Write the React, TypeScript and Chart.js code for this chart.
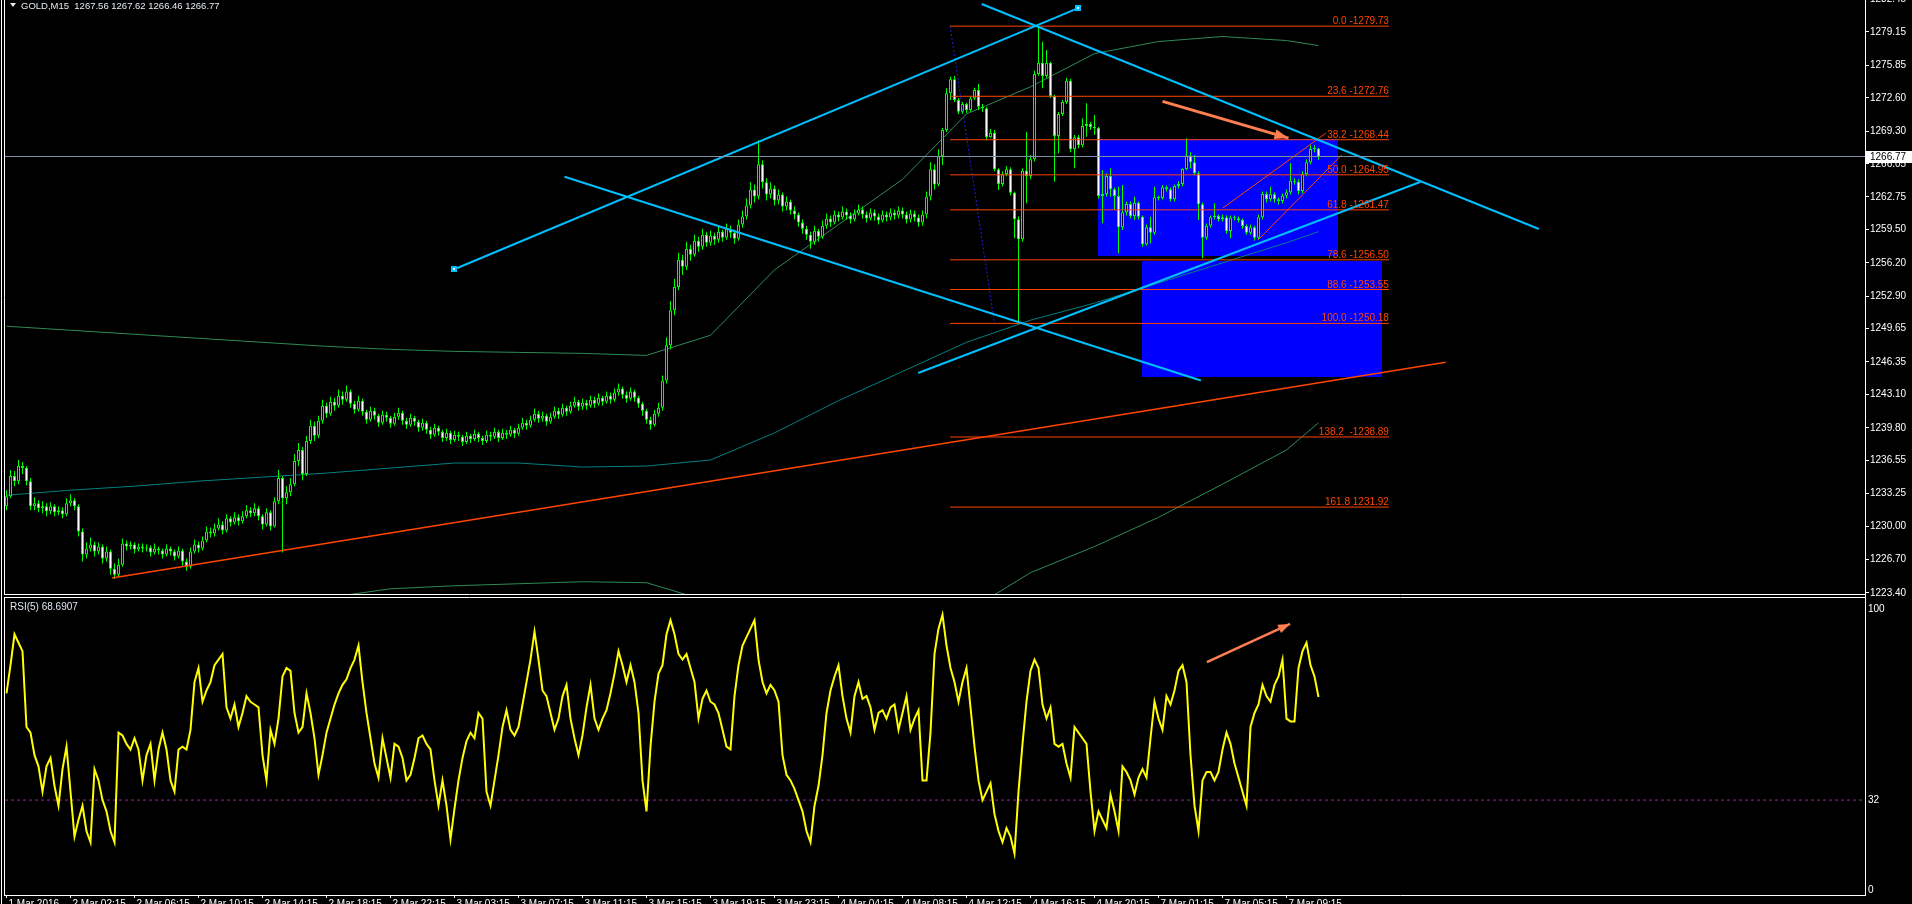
import React, { useEffect, useRef } from 'react';
import { Chart, registerables } from 'chart.js';

Chart.register(...registerables);

const FONT_FAMILY = '"Liberation Sans", Arial, "DejaVu Sans", sans-serif';
const FONT_SIZE = 10;
const LIME = '#00ff00';
const CYAN = '#00bfff';
const ORANGE_RED = '#ff4500';
const CORAL = '#ff7f50';

// ---------------- candles (GOLD M15) ----------------
const firstOpen = 1232.0;
const closes: number[] = [
  1233.0,1235.0,1234.5,1236.0,1235.8,1234.5,1232.0,1232.3,1231.8,1232.0,
  1231.5,1232.0,1231.4,1231.6,1231.2,1232.3,1232.6,1232.0,1229.5,1227.2,
  1227.8,1228.2,1227.5,1228.0,1226.8,1227.5,1225.8,1225.2,1226.2,1228.3,
  1228.0,1228.2,1227.7,1228.0,1227.8,1227.9,1227.4,1227.8,1227.6,1227.2,
  1227.8,1227.5,1227.0,1227.6,1226.5,1226.0,1227.5,1228.2,1227.8,1228.6,
  1229.5,1229.3,1229.8,1230.2,1229.6,1230.8,1230.4,1230.9,1230.5,1231.0,
  1231.6,1231.3,1231.8,1231.0,1230.2,1231.4,1230.0,1232.5,1234.8,1232.8,
  1233.4,1234.2,1236.5,1237.6,1235.2,1238.5,1240.0,1239.0,1240.5,1242.0,
  1241.2,1242.4,1242.0,1243.0,1242.6,1243.4,1242.2,1241.6,1242.5,1241.4,
  1240.6,1241.5,1241.0,1240.3,1241.1,1240.8,1240.2,1240.9,1241.3,1240.5,
  1240.1,1240.8,1240.4,1239.8,1240.3,1239.6,1239.1,1239.8,1239.4,1238.8,
  1239.3,1238.6,1239.1,1238.9,1238.4,1239.0,1238.7,1239.2,1238.8,1238.5,
  1239.1,1238.9,1239.4,1238.8,1239.3,1239.1,1239.6,1239.2,1239.8,1240.3,
  1240.0,1240.6,1241.2,1240.7,1241.0,1240.4,1240.9,1241.5,1241.1,1241.8,
  1241.4,1242.0,1242.4,1241.9,1242.3,1242.0,1242.6,1242.2,1242.8,1242.4,
  1243.0,1242.6,1243.3,1243.7,1243.1,1242.7,1243.4,1242.8,1242.2,1241.5,
  1240.6,1240.1,1241.2,1241.8,1244.5,1248.0,1251.5,1253.8,1256.5,1255.8,
  1257.6,1257.0,1258.4,1257.8,1259.0,1258.2,1258.9,1258.5,1259.3,1258.7,
  1259.6,1259.2,1258.6,1260.0,1260.8,1261.9,1263.5,1262.8,1266.0,1264.2,
  1263.0,1263.6,1262.4,1263.0,1261.8,1262.3,1261.4,1261.0,1260.2,1259.6,
  1259.0,1258.3,1259.4,1258.8,1259.9,1260.6,1260.2,1261.0,1260.7,1261.3,
  1260.9,1260.5,1261.1,1261.5,1261.0,1260.6,1261.2,1260.8,1260.4,1261.0,
  1260.7,1261.2,1260.9,1261.4,1261.0,1260.5,1261.1,1260.7,1260.2,1261.0,
  1262.8,1265.5,1264.0,1266.8,1269.4,1273.05,1274.44,1272.39,1271.23,1271.99,
  1271.39,1272.55,1273.38,1271.73,1271.56,1268.68,1269.14,1265.5,1264.04,1265.03,
  1265.5,1263.18,1260.53,1258.54,1265.37,1264.83,1266.49,1274.97,1276.1,1274.77,
  1276.1,1272.79,1268.81,1271.0,1272.19,1274.31,1267.49,1268.68,1267.88,1269.81,
  1270.0,1269.67,1269.61,1262.85,1263.05,1264.83,1263.51,1262.85,1259.73,1261.22,
  1262.05,1260.86,1262.18,1260.79,1258.04,1259.73,1259.2,1262.71,1262.65,1263.71,
  1263.51,1262.51,1263.84,1264.04,1265.53,1266.86,1266.2,1265.1,1262.02,1258.7,
  1259.9,1260.73,1260.86,1260.53,1260.73,1259.37,1260.69,1260.63,1260.46,1259.86,
  1259.2,1259.73,1258.7,1260.73,1263.05,1262.51,1263.01,1262.51,1262.35,1262.88,
  1263.21,1264.37,1264.27,1263.34,1265.03,1266.19,1267.52,1267.56,1266.77
];
const highs: number[] = [
  1233.6,1235.6,1235.5,1236.6,1236.4,1236.0,1234.8,1232.9,1232.6,1232.5,
  1232.3,1232.4,1232.2,1232.0,1231.9,1232.8,1233.2,1232.8,1232.2,1229.8,
  1228.4,1228.9,1228.5,1228.4,1228.2,1228.0,1227.7,1226.3,1226.8,1228.8,
  1228.6,1228.5,1228.4,1228.3,1228.3,1228.2,1228.1,1228.3,1228.0,1227.8,
  1228.2,1228.0,1227.7,1228.0,1227.8,1226.8,1227.9,1228.7,1228.5,1229.0,
  1230.0,1229.9,1230.3,1230.8,1230.5,1231.2,1231.0,1231.4,1231.2,1231.5,
  1232.1,1231.9,1232.3,1232.0,1231.2,1231.8,1231.6,1232.9,1235.6,1235.0,
  1234.0,1234.8,1237.2,1238.3,1237.9,1239.0,1240.6,1240.4,1241.0,1242.6,
  1242.3,1242.9,1242.8,1243.6,1243.4,1244.0,1243.6,1242.5,1243.0,1242.7,
  1241.6,1241.9,1241.8,1241.2,1241.5,1241.4,1241.0,1241.3,1241.8,1241.5,
  1240.8,1241.2,1241.0,1240.6,1240.7,1240.5,1239.9,1240.2,1240.0,1239.6,
  1239.7,1239.5,1239.5,1239.4,1239.1,1239.4,1239.2,1239.6,1239.4,1239.0,
  1239.5,1239.4,1239.8,1239.6,1239.7,1239.6,1240.0,1239.8,1240.2,1240.8,
  1240.6,1241.0,1241.7,1241.5,1241.4,1241.2,1241.3,1241.9,1241.8,1242.2,
  1242.0,1242.4,1242.9,1242.6,1242.7,1242.6,1243.0,1242.9,1243.2,1243.0,
  1243.4,1243.3,1243.7,1244.2,1243.9,1243.4,1243.8,1243.6,1243.0,1242.4,
  1241.7,1240.9,1241.6,1242.3,1245.0,1248.8,1252.4,1254.6,1257.2,1257.0,
  1258.3,1258.0,1259.0,1258.8,1259.6,1259.3,1259.4,1259.2,1259.8,1259.5,
  1260.1,1259.9,1259.5,1260.5,1261.4,1262.6,1264.2,1264.0,1268.4,1266.4,
  1264.6,1264.2,1263.9,1263.5,1263.2,1262.8,1262.5,1261.8,1261.2,1260.5,
  1259.9,1259.3,1259.9,1259.6,1260.4,1261.1,1260.9,1261.4,1261.3,1261.8,
  1261.6,1261.2,1261.5,1262.0,1261.8,1261.3,1261.6,1261.5,1261.1,1261.4,
  1261.3,1261.6,1261.5,1261.8,1261.7,1261.3,1261.5,1261.4,1261.0,1261.4,
  1263.3,1266.2,1266.0,1267.5,1269.6,1273.55,1274.71,1274.77,1272.6,1272.2,
  1272.1,1272.72,1273.6,1273.98,1272.0,1271.7,1269.5,1269.4,1265.6,1265.3,
  1265.8,1265.7,1263.3,1260.8,1265.6,1269.24,1266.9,1275.3,1279.73,1278.19,
  1277.36,1276.2,1272.9,1271.2,1272.4,1274.6,1274.5,1268.9,1268.9,1270.57,
  1272.06,1270.2,1270.9,1269.7,1265.43,1265.1,1265.6,1263.7,1263.77,1263.94,
  1262.3,1262.3,1262.78,1262.3,1260.9,1260.0,1260.79,1263.77,1262.9,1263.94,
  1263.9,1263.7,1264.0,1264.3,1265.6,1268.58,1267.2,1266.9,1265.3,1262.2,
  1260.1,1260.9,1262.12,1261.0,1261.0,1260.9,1260.9,1260.9,1260.8,1260.6,
  1260.0,1260.0,1259.9,1261.0,1263.3,1263.3,1263.77,1263.2,1262.7,1263.1,
  1263.5,1266.09,1264.6,1264.5,1265.3,1266.5,1267.9,1267.9,1267.62
];
const lows: number[] = [
  1231.6,1232.8,1234.0,1234.2,1235.2,1234.1,1231.6,1231.6,1231.4,1231.3,
  1231.0,1231.2,1231.0,1231.1,1230.8,1231.0,1232.0,1231.6,1229.0,1226.5,
  1226.8,1227.5,1227.0,1227.2,1226.3,1226.5,1225.2,1224.8,1225.0,1226.0,
  1227.6,1227.7,1227.3,1227.5,1227.4,1227.5,1227.0,1227.2,1227.2,1226.8,
  1227.0,1227.1,1226.6,1226.8,1226.1,1225.6,1225.8,1227.3,1227.4,1227.6,
  1228.4,1228.9,1229.0,1229.6,1229.2,1229.4,1230.0,1230.2,1230.1,1230.3,
  1230.8,1230.9,1231.0,1230.6,1229.7,1230.0,1229.6,1229.9,1232.2,1227.4,
  1232.2,1233.0,1234.0,1236.0,1234.6,1235.0,1238.2,1238.5,1238.8,1240.2,
  1240.8,1241.0,1241.5,1241.8,1242.1,1242.4,1241.8,1241.2,1241.4,1241.0,
  1240.2,1240.4,1240.6,1239.9,1240.1,1240.4,1239.8,1240.0,1240.6,1240.1,
  1239.7,1239.9,1240.0,1239.4,1239.5,1239.2,1238.7,1238.9,1239.0,1238.4,
  1238.5,1238.2,1238.4,1238.5,1238.0,1238.2,1238.3,1238.5,1238.4,1238.1,
  1238.3,1238.5,1238.7,1238.4,1238.6,1238.7,1238.9,1238.8,1239.0,1239.6,
  1239.6,1239.8,1240.4,1240.3,1240.4,1240.0,1240.2,1240.7,1240.7,1240.9,
  1241.0,1241.2,1241.8,1241.5,1241.6,1241.6,1241.8,1241.8,1242.0,1242.0,
  1242.2,1242.2,1242.4,1243.0,1242.7,1242.3,1242.5,1242.4,1241.8,1241.0,
  1240.2,1239.6,1239.9,1240.9,1241.5,1244.2,1247.6,1251.0,1253.5,1255.0,
  1255.5,1256.4,1256.8,1257.3,1257.5,1257.8,1257.9,1258.0,1258.2,1258.3,
  1258.5,1258.7,1258.1,1258.4,1259.7,1260.5,1261.6,1262.2,1262.5,1263.6,
  1262.4,1262.6,1261.9,1262.0,1261.3,1261.4,1261.0,1260.5,1259.8,1259.1,
  1258.5,1257.6,1258.0,1258.3,1258.6,1259.6,1259.8,1260.0,1260.3,1260.5,
  1260.5,1260.1,1260.3,1260.9,1260.6,1260.2,1260.4,1260.4,1260.0,1260.2,
  1260.3,1260.4,1260.5,1260.6,1260.6,1260.1,1260.2,1260.3,1259.8,1259.9,
  1260.6,1262.4,1263.5,1263.8,1265.93,1269.2,1272.39,1272.2,1271.0,1271.0,
  1271.1,1271.23,1272.4,1271.39,1271.2,1268.4,1268.6,1265.3,1263.44,1263.8,
  1264.8,1262.9,1258.64,1250.18,1258.3,1262.12,1264.5,1266.3,1274.8,1273.55,
  1274.6,1272.6,1264.27,1267.09,1270.8,1272.0,1267.2,1265.6,1267.6,1267.7,
  1268.74,1269.4,1268.91,1262.6,1260.13,1262.8,1262.78,1261.46,1257.15,1259.47,
  1260.9,1260.6,1260.46,1260.5,1257.8,1257.9,1258.14,1259.0,1262.4,1262.5,
  1263.3,1262.3,1262.3,1263.6,1263.8,1265.4,1265.6,1264.9,1260.46,1256.65,
  1258.5,1259.7,1260.5,1260.3,1260.3,1259.1,1258.64,1260.4,1260.2,1259.6,
  1259.0,1259.0,1258.4,1258.5,1260.5,1262.2,1262.3,1262.2,1262.0,1262.1,
  1262.6,1263.0,1264.0,1263.0,1263.11,1264.8,1266.0,1267.2,1266.46
];

// ---------------- RSI(5) ----------------
const rsiValues: number[] = [
  70,80,91,88,85,58,56,48,44,35,
  44,47,37,30,43,51,35,19,25,30,
  21,17,43,39,32,28,21,17,56,55,
  52,50,54,50,39,48,52,39,50,56,
  50,39,35,50,51,50,57,74,79,67,
  71,74,80,82,84,65,61,66,58,63,
  69,67,66,65,48,39,57,52,61,76,
  79,78,63,56,58,70,63,54,41,48,
  56,61,66,70,73,75,79,82,87,74,
  63,54,45,40,54,47,40,52,51,47,
  39,41,47,54,55,52,50,39,30,39,
  30,18,29,39,47,53,56,54,63,61,
  35,30,39,48,58,64,57,55,58,66,
  74,82,92,82,71,69,63,57,61,69,
  73,61,54,48,55,65,73,61,57,61,
  64,70,77,85,80,74,80,74,63,39,
  28,51,67,77,80,91,96,91,84,82,
  84,79,74,61,68,71,67,66,63,57,
  51,50,69,80,87,90,93,96,82,74,
  70,73,71,67,48,41,39,36,32,28,
  21,17,30,37,48,63,71,76,80,69,
  61,56,69,74,68,69,65,57,63,64,
  61,65,66,57,63,69,57,61,64,39,
  39,56,84,93,98,87,79,74,67,74,
  79,65,51,39,32,35,38,27,21,17,
  22,19,13,35,52,67,78,82,79,66,
  61,65,52,51,52,45,40,58,56,54,
  52,35,21,28,25,22,34,28,21,44,
  42,39,34,40,43,40,54,67,61,57,
  69,66,71,78,80,74,48,30,21,39,
  42,42,39,42,50,56,52,45,40,35,
  30,58,63,66,73,69,67,73,76,82,
  61,60,60,79,85,88,80,76,68.69
];

// ---------------- axes ----------------
const priceTicks = [1282.45,1279.15,1275.85,1272.60,1269.30,1266.05,1262.75,1259.50,1256.20,1252.90,1249.65,1246.35,1243.10,1239.80,1236.55,1233.25,1230.00,1226.70,1223.40];
const rsiTicks = [0, 32, 100];
const dateTickBars = [0,16,32,48,64,80,96,112,128,144,160,176,192,208,224,240,256,272,288,304,320];
const dateTickLabels = ['1 Mar 2016','2 Mar 02:15','2 Mar 06:15','2 Mar 10:15','2 Mar 14:15','2 Mar 18:15','2 Mar 22:15','3 Mar 03:15','3 Mar 07:15','3 Mar 11:15','3 Mar 15:15','3 Mar 19:15','3 Mar 23:15','4 Mar 04:15','4 Mar 08:15','4 Mar 12:15','4 Mar 16:15','4 Mar 20:15','7 Mar 01:15','7 Mar 05:15','7 Mar 09:15'];

// ---------------- Bollinger bands (sampled) ----------------
const bbBars = [0,16,32,48,64,80,96,112,128,144,160,176,192,208,224,240,256,272,288,304,320,328];
const bbUpper = [1249.9,1249.5,1249.1,1248.7,1248.3,1247.9,1247.6,1247.4,1247.3,1247.2,1247.0,1249.0,1255.5,1260.0,1264.5,1271.0,1273.7,1277.0,1278.2,1278.7,1278.3,1277.8];
const bbMid = [1233.1,1233.6,1234.0,1234.5,1234.9,1235.3,1235.8,1236.3,1236.3,1235.9,1236.0,1236.6,1239.3,1242.5,1245.4,1248.3,1250.5,1252.2,1254.2,1256.2,1258.2,1259.3];
const bbLower = [1216.3,1217.7,1218.9,1220.3,1221.5,1222.9,1223.8,1224.1,1224.3,1224.5,1224.4,1222.5,1220.0,1218.5,1219.0,1221.5,1225.4,1228.0,1230.9,1234.2,1237.6,1240.3];

// ---------------- Fibonacci ----------------
const fibPrices = [1279.73,1272.76,1268.44,1264.95,1261.47,1256.50,1253.55,1250.18,1238.89,1231.92];
const fibLabels = ['0.0 -1279.73','23.6 -1272.76','38.2 -1268.44','50.0 -1264.95','61.8 -1261.47','78.6 -1256.50','88.6 -1253.55','100.0 -1250.18','138.2  -1238.89','161.8 1231.92'];
const fibStartBar = 235.9;
const fibEndBar = 345.6;
const fibDiagBars = [235.9, 247.0];
const fibDiagPrices = [1279.73, 1250.18];

// ---------------- drawn objects ----------------
const cyanLineBars = [[111.8, 267.9], [139.5, 298.6], [227.9, 353.4], [243.8, 383.1]];
const cyanLinePrices = [[1255.54, 1281.53], [1264.76, 1244.51], [1245.25, 1264.24], [1281.93, 1259.57]];
const supportBars = [26.4, 359.8];
const supportPrices = [1224.87, 1246.32];
const channelBars = [[304.1, 329.8], [312.9, 333.8]];
const channelPrices = [[1261.65, 1269.08], [1258.47, 1266.92]];
const arrowBars = [289.0, 320.5];
const arrowPrices = [1272.25, 1268.6];
const rsiArrowBars = [300.1, 320.9];
const rsiArrowValues = [81.1, 94.7];
const zoneBars = [[272.9, 332.9], [283.9, 343.9]];
const zonePrices = [[1268.47, 1256.88], [1256.39, 1244.85]];
const lastPrice = 1266.77;
const rsiLevel = 32;
const headerText = 'GOLD,M15  1267.56 1267.62 1266.46 1266.77';
const rsiTitle = 'RSI(5) 68.6907';

// ---------------- scale ranges ----------------
const X_MIN = -0.375;
const X_MAX = 464.625;
const PRICE_MIN = 1223.28;
const PRICE_MAX = 1282.33;
const RSI_MIN = -1.78;
const RSI_MAX = 103.56;

const font = (size = FONT_SIZE) => `${size}px ${FONT_FAMILY}`;

function pts(xs: number[], ys: number[]) {
  return xs.map((x, k) => ({ x, y: ys[k] }));
}

function lineDs(data: any[], color: string, width: number, order: number, dash: number[] = []) {
  return {
    type: 'line',
    data,
    borderColor: color,
    borderWidth: width,
    borderDash: dash,
    pointRadius: 0,
    pointHoverRadius: 0,
    fill: false,
    tension: 0,
    order,
    clip: 0,
  };
}

function arrowHead(ctx: any, x0: number, y0: number, x1: number, y1: number, len: number, half: number, color: string) {
  const a = Math.atan2(y1 - y0, x1 - x0);
  const c = Math.cos(a), s = Math.sin(a);
  ctx.save();
  ctx.fillStyle = color;
  ctx.beginPath();
  ctx.moveTo(x1, y1);
  ctx.lineTo(x1 - len * c + half * s, y1 - len * s - half * c);
  ctx.lineTo(x1 - len * c - half * s, y1 - len * s + half * c);
  ctx.closePath();
  ctx.fill();
  ctx.restore();
}

function hLine(ctx: any, x0: number, x1: number, y: number, color: string) {
  ctx.strokeStyle = color;
  ctx.lineWidth = 1;
  ctx.beginPath();
  ctx.moveTo(x0, y);
  ctx.lineTo(x1, y);
  ctx.stroke();
}
function vLine(ctx: any, x: number, y0: number, y1: number, color: string) {
  ctx.strokeStyle = color;
  ctx.lineWidth = 1;
  ctx.beginPath();
  ctx.moveTo(x, y0);
  ctx.lineTo(x, y1);
  ctx.stroke();
}

const mainDecor = {
  id: 'mainDecor',
  beforeDatasetsDraw(chart: any) {
    const { ctx, chartArea: a } = chart;
    const xs = chart.scales.x, ys = chart.scales.y;
    ctx.save();
    ctx.beginPath();
    ctx.rect(a.left, a.top, a.right - a.left, a.bottom - a.top);
    ctx.clip();
    ctx.fillStyle = '#0000ff';
    zoneBars.forEach((b, k) => {
      const x0 = Math.round(xs.getPixelForValue(b[0]));
      const x1 = Math.round(xs.getPixelForValue(b[1]));
      const y0 = Math.round(ys.getPixelForValue(zonePrices[k][0]));
      const y1 = Math.round(ys.getPixelForValue(zonePrices[k][1]));
      ctx.fillRect(x0, y0, x1 - x0, y1 - y0);
    });
    ctx.restore();
  },
  afterDatasetsDraw(chart: any) {
    const { ctx } = chart;
    const xs = chart.scales.x, ys = chart.scales.y;
    ctx.save();
    ctx.font = font(10);
    ctx.fillStyle = ORANGE_RED;
    ctx.textAlign = 'right';
    ctx.textBaseline = 'alphabetic';
    const fx = xs.getPixelForValue(fibEndBar);
    fibPrices.forEach((p, k) => {
      ctx.fillText(fibLabels[k], fx, Math.round(ys.getPixelForValue(p)) - 2);
    });
    arrowHead(ctx,
      xs.getPixelForValue(arrowBars[0]), ys.getPixelForValue(arrowPrices[0]),
      xs.getPixelForValue(arrowBars[1]), ys.getPixelForValue(arrowPrices[1]), 14, 5, CORAL);
    cyanLineBars[0].forEach((b, k) => {
      const px = Math.round(xs.getPixelForValue(b));
      const py = Math.round(ys.getPixelForValue(cyanLinePrices[0][k]));
      ctx.fillStyle = CYAN;
      ctx.fillRect(px - 3, py - 3, 6, 6);
      ctx.fillStyle = '#e8f8ff';
      ctx.fillRect(px - 1, py - 1, 2, 2);
    });
    ctx.restore();
  },
  afterDraw(chart: any) {
    const { ctx } = chart;
    const ys = chart.scales.y;
    ctx.save();
    vLine(ctx, 1.5, 0, 597, '#ffffff');
    vLine(ctx, 4.5, 0, 595, '#ffffff');
    vLine(ctx, 1865.5, 0, 597, '#ffffff');
    hLine(ctx, 4, 1866, 594.5, '#ffffff');
    const py = Math.round(ys.getPixelForValue(lastPrice));
    ctx.fillStyle = '#ffffff';
    ctx.fillRect(1866, py - 6, 46, 12);
    ctx.fillStyle = '#000000';
    ctx.font = font(10);
    ctx.textAlign = 'left';
    ctx.textBaseline = 'middle';
    ctx.fillText(lastPrice.toFixed(2), 1870, py + 0.5);
    ctx.fillStyle = '#e4ecf4';
    ctx.beginPath();
    ctx.moveTo(10, 3);
    ctx.lineTo(16, 3);
    ctx.lineTo(13, 7);
    ctx.closePath();
    ctx.fill();
    ctx.font = font(9.5);
    ctx.textBaseline = 'alphabetic';
    ctx.fillText(headerText, 21, 9);
    ctx.restore();
  },
};

const rsiDecor = {
  id: 'rsiDecor',
  afterDatasetsDraw(chart: any) {
    const { ctx } = chart;
    const xs = chart.scales.x, ys = chart.scales.y;
    arrowHead(ctx,
      xs.getPixelForValue(rsiArrowBars[0]), ys.getPixelForValue(rsiArrowValues[0]),
      xs.getPixelForValue(rsiArrowBars[1]), ys.getPixelForValue(rsiArrowValues[1]), 12, 4.5, CORAL);
  },
  afterDraw(chart: any) {
    const { ctx } = chart;
    ctx.save();
    vLine(ctx, 1.5, 0, 307, '#ffffff');
    vLine(ctx, 4.5, 0, 299, '#ffffff');
    vLine(ctx, 1865.5, 0, 299, '#ffffff');
    hLine(ctx, 4, 1866, 0.5, '#ffffff');
    ctx.fillStyle = '#dfe6f0';
    ctx.font = font(10);
    ctx.textAlign = 'left';
    ctx.textBaseline = 'alphabetic';
    ctx.fillText(rsiTitle, 10, 13);
    ctx.restore();
  },
};

export default function App() {
  const mainRef = useRef<HTMLCanvasElement>(null);
  const rsiRef = useRef<HTMLCanvasElement>(null);

  useEffect(() => {
    document.body.style.margin = '0';
    document.body.style.background = '#000';
    document.body.style.overflow = 'hidden';

    const opens = closes.map((c, i) => (i === 0 ? firstOpen : closes[i - 1]));
    const wickData = closes.map((c, i) => ({ x: i, y: [lows[i], highs[i]] }));
    const bodyData = closes.map((c, i) => ({ x: i, y: [opens[i], c] }));
    const bodyColors = closes.map((c, i) => (c < opens[i] ? '#ffffff' : '#000000'));

    const mainDatasets: any[] = [
      { type: 'bar', data: wickData, backgroundColor: LIME, borderWidth: 0, barThickness: 1, grouped: false, order: 21, inflateAmount: 0 },
      { type: 'bar', data: bodyData, backgroundColor: bodyColors, borderColor: LIME, borderWidth: 1, borderSkipped: false, barThickness: 3, grouped: false, order: 20, inflateAmount: 0, minBarLength: 1 },
      lineDs(pts(bbBars, bbUpper), '#2e8b57', 1, 30),
      lineDs(pts(bbBars, bbMid), '#008080', 1, 30),
      lineDs(pts(bbBars, bbLower), '#2e8b57', 1, 30),
      lineDs(pts(supportBars, supportPrices), ORANGE_RED, 1.5, 12),
      lineDs(pts(fibDiagBars, fibDiagPrices), '#2020e0', 1, 11, [2, 2]),
      ...fibPrices.map((p) => lineDs(pts([fibStartBar, fibEndBar], [p, p]), ORANGE_RED, 1, 10)),
      ...channelBars.map((b, k) => lineDs(pts(b, channelPrices[k]), ORANGE_RED, 1, 9)),
      ...cyanLineBars.map((b, k) => lineDs(pts(b, cyanLinePrices[k]), CYAN, 2, 8)),
      lineDs(pts([X_MIN, X_MAX], [lastPrice, lastPrice]), '#8090a0', 1, 5),
      lineDs(pts(arrowBars, arrowPrices), CORAL, 3, 3),
    ];

    const main = new Chart(mainRef.current as any, {
      type: 'bar',
      data: { datasets: mainDatasets },
      options: {
        responsive: false,
        maintainAspectRatio: false,
        animation: false,
        devicePixelRatio: 1,
        events: [],
        layout: { padding: { left: 5, right: 0, top: 0, bottom: 3 }, autoPadding: false },
        plugins: { legend: { display: false }, tooltip: { enabled: false }, title: { display: false } },
        scales: {
          x: { type: 'linear', min: X_MIN, max: X_MAX, offset: false, display: false },
          y: {
            type: 'linear',
            position: 'right',
            min: PRICE_MIN,
            max: PRICE_MAX,
            afterBuildTicks: (s: any) => { s.ticks = priceTicks.map((v) => ({ value: v })); },
            afterFit: (s: any) => { s.width = 47; s.paddingTop = 0; s.paddingBottom = 0; },
            ticks: {
              autoSkip: false,
              color: '#ffffff',
              padding: 1,
              font: { family: FONT_FAMILY, size: FONT_SIZE },
              callback: (v: any) => Number(v).toFixed(2),
            },
            grid: { display: true, drawOnChartArea: false, drawTicks: true, tickLength: 4, color: '#ffffff' },
            border: { display: true, color: '#ffffff', width: 1 },
          },
        },
      } as any,
      plugins: [mainDecor],
    } as any);

    const rsiDatasets: any[] = [
      lineDs(pts([X_MIN, X_MAX], [rsiLevel, rsiLevel]), '#a020a0', 1, 10, [3, 3]),
      lineDs(rsiValues.map((v, i) => ({ x: i, y: v })), '#ffff00', 2, 5),
      lineDs(pts(rsiArrowBars, rsiArrowValues), CORAL, 2.5, 1),
    ];

    const rsi = new Chart(rsiRef.current as any, {
      type: 'line',
      data: { datasets: rsiDatasets },
      options: {
        responsive: false,
        maintainAspectRatio: false,
        animation: false,
        devicePixelRatio: 1,
        events: [],
        layout: { padding: { left: 5, right: 0, top: 2, bottom: 0 }, autoPadding: false },
        plugins: { legend: { display: false }, tooltip: { enabled: false }, title: { display: false } },
        scales: {
          x: {
            type: 'linear',
            position: 'bottom',
            min: X_MIN,
            max: X_MAX,
            offset: false,
            afterBuildTicks: (s: any) => { s.ticks = dateTickBars.map((v) => ({ value: v })); },
            afterFit: (s: any) => { s.height = 9; s.paddingLeft = 0; s.paddingRight = 0; },
            ticks: {
              autoSkip: false,
              maxRotation: 0,
              minRotation: 0,
              align: 'start',
              labelOffset: 2,
              padding: 0,
              color: '#ffffff',
              font: { family: FONT_FAMILY, size: FONT_SIZE },
              callback: (v: any) => {
                const k = dateTickBars.indexOf(Number(v));
                return k >= 0 ? dateTickLabels[k] : '';
              },
            },
            grid: { display: true, drawOnChartArea: false, drawTicks: true, tickLength: 3, color: '#ffffff' },
            border: { display: true, color: '#ffffff', width: 1 },
          },
          y: {
            type: 'linear',
            position: 'right',
            min: RSI_MIN,
            max: RSI_MAX,
            afterBuildTicks: (s: any) => { s.ticks = rsiTicks.map((v) => ({ value: v })); },
            afterFit: (s: any) => { s.width = 47; s.paddingTop = 0; s.paddingBottom = 0; },
            ticks: {
              autoSkip: false,
              color: '#ffffff',
              padding: 3,
              font: { family: FONT_FAMILY, size: FONT_SIZE },
              callback: (v: any) => String(v),
            },
            grid: { display: true, drawOnChartArea: false, drawTicks: false, color: '#ffffff' },
            border: { display: true, color: '#ffffff', width: 1 },
          },
        },
      } as any,
      plugins: [rsiDecor],
    } as any);

    return () => {
      main.destroy();
      rsi.destroy();
    };
  }, []);

  return (
    <div style={{ position: 'relative', width: 1912, height: 904, background: '#000', overflow: 'hidden' }}>
      <canvas ref={mainRef} width={1912} height={597} style={{ position: 'absolute', left: 0, top: 0, width: 1912, height: 597 }} />
      <canvas ref={rsiRef} width={1912} height={307} style={{ position: 'absolute', left: 0, top: 597, width: 1912, height: 307 }} />
    </div>
  );
}
